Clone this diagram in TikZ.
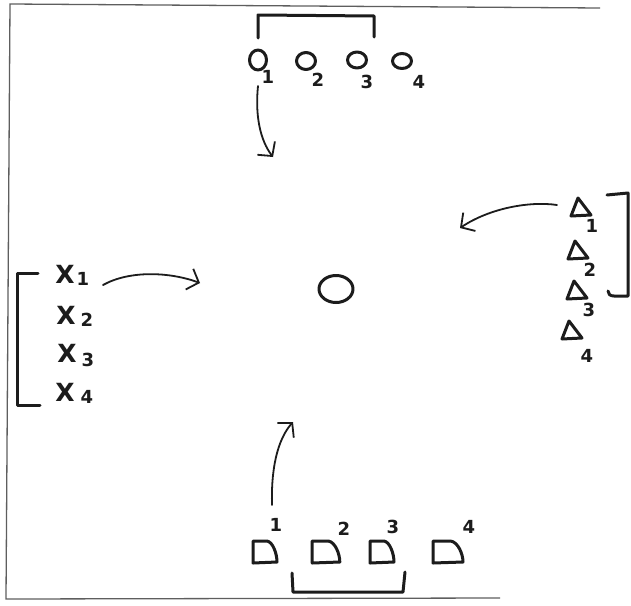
\documentclass[tikz,border=0pt]{standalone}
\usepackage{fontspec}
\setmainfont{DejaVu Sans}
\usetikzlibrary{arrows.meta,shapes.geometric}
\definecolor{ink}{HTML}{1C1C1C}
\definecolor{frameink}{HTML}{5E5E5E}
\tikzset{
  pen/.style={draw=ink, line width=3pt, line cap=round, line join=round},
  arrowpen/.style={draw=ink, line width=1.8pt, line cap=round, line join=round,
    -{Straight Barb[length=10pt,width=22pt,line width=1.8pt]}},
  frameline/.style={draw=frameink, line width=1.3pt},
  oval/.style={ellipse, pen, inner sep=0pt, minimum width=#1},
  digit/.style={text=ink, font=\bfseries\fontsize{18}{18}\selectfont, inner sep=0pt},
  bigx/.style={text=ink, font=\bfseries\fontsize{25}{25}\selectfont, inner sep=0pt},
  tri/.pic={\draw[pen] (-3,-9) -- (10,8) -- (-10,9) -- cycle;},
  dshape/.pic={\draw[pen] (-12,-11) -- (2,-11) .. controls (8,-10) and (12,2) .. (12,10) -- (-12,11) -- cycle;}
}
\begin{document}
\begin{tikzpicture}[x=1pt,y=-1pt]
\useasboundingbox (0,0) rectangle (631,605);
\fill[white] (0,0) rectangle (631,605);
% paper frame
\draw[frameline] (600,8) -- (10,4) -- (6,599) -- (500,598);

% ---------- top group ----------
\draw[pen] (258,38) -- (258,15) -- (374,16) -- (374,37);
\node[oval=17pt, minimum height=20pt] (o1) at (258,60) {};
\node[oval=19pt, minimum height=17pt] (o2) at (306,61) {};
\node[oval=19pt, minimum height=16pt] (o3) at (357,60) {};
\node[oval=19pt, minimum height=15pt] (o4) at (402,61) {};
\node[digit] (t1) at (268,77) {1};
\node[digit] (t2) at (318,80) {2};
\node[digit] (t3) at (367,82) {3};
\node[digit] (t4) at (419,82) {4};
\coordinate (topA) at (258,86);
\coordinate (topB) at (273,157);
\draw[arrowpen] (topA) .. controls (255,115) and (260,140) .. (topB);

% ---------- right group ----------
\pic (d1) at (581,207) {tri};
\pic (d2) at (578,250) {tri};
\pic (d3) at (577,290) {tri};
\pic (d4) at (572,330) {tri};
\node[digit] (r1) at (592,226) {1};
\node[digit] (r2) at (590,270) {2};
\node[digit] (r3) at (589,310) {3};
\node[digit] (r4) at (587,356) {4};
\draw[pen] (607,195) -- (628,193) -- (628,296) -- (614,296) .. controls (610,296) and (608,294) .. (608,291);
\coordinate (rightA) at (557,205);
\coordinate (rightB) at (460,228);
\draw[arrowpen] (rightA) .. controls (530,201) and (490,208) .. (rightB);

% ---------- left group ----------
\draw[pen] (38,273) -- (17,273) -- (17,405) -- (40,405);
\node[bigx] (x1) at (65,274) {X};
\node[bigx] (x2) at (66,315) {X};
\node[bigx] (x3) at (67,353) {X};
\node[bigx] (x4) at (65,392) {X};
\node[digit] (l1) at (83,279) {1};
\node[digit] (l2) at (87,320) {2};
\node[digit] (l3) at (88,360) {3};
\node[digit] (l4) at (87,397) {4};
\coordinate (leftA) at (103,285);
\coordinate (leftB) at (200,283);
\draw[arrowpen] (leftA) .. controls (130,270) and (170,272) .. (leftB);

% ---------- centre ----------
\node[oval=34pt, minimum height=27pt] (ball) at (336,289) {};

% ---------- bottom group ----------
\pic (s1) at (265,552) {dshape};
\pic[xscale=1.15] (s2) at (326,552) {dshape};
\pic (s3) at (382,552) {dshape};
\pic[xscale=1.25] (s4) at (448,552) {dshape};
\node[digit] (b1) at (276,525) {1};
\node[digit] (b2) at (344,529) {2};
\node[digit] (b3) at (393,527) {3};
\node[digit] (b4) at (469,527) {4};
\draw[pen] (292,573) -- (293,592) -- (403,592) -- (405,572);
\coordinate (botA) at (272,505);
\coordinate (botB) at (293,422);
\draw[arrowpen] (botA) .. controls (271,470) and (277,440) .. (botB);
\end{tikzpicture}
\end{document}
